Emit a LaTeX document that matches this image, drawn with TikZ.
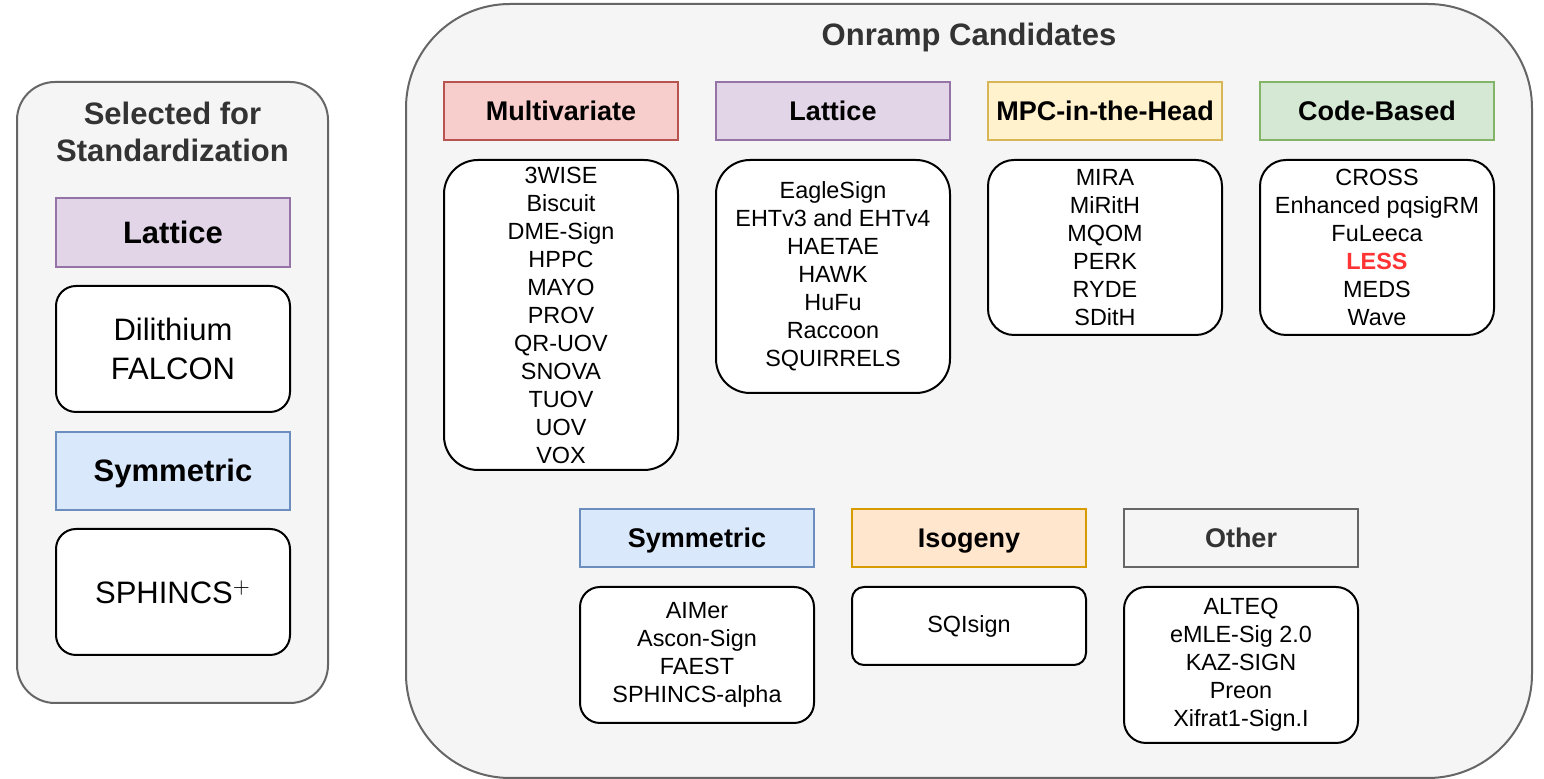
\documentclass[tikz,border=0pt]{standalone}
\usepackage{fontspec}
\setmainfont{Liberation Sans}
\usetikzlibrary{positioning}

\definecolor{redfill}{HTML}{F8CECC}\definecolor{redline}{HTML}{B85450}
\definecolor{purpfill}{HTML}{E1D5E7}\definecolor{purpline}{HTML}{9673A6}
\definecolor{yelfill}{HTML}{FFF2CC}\definecolor{yelline}{HTML}{D6B656}
\definecolor{grnfill}{HTML}{D5E8D4}\definecolor{grnline}{HTML}{82B366}
\definecolor{bluefill}{HTML}{DAE8FC}\definecolor{blueline}{HTML}{6C8EBF}
\definecolor{orgfill}{HTML}{FFE6CC}\definecolor{orgline}{HTML}{D79B00}
\definecolor{grayfill}{HTML}{F5F5F5}\definecolor{grayline}{HTML}{666666}
\definecolor{graytext}{HTML}{333333}
\definecolor{lessred}{HTML}{FF3333}

\begin{document}
\begin{tikzpicture}[x=0.5pt,y=-0.5pt]
  \tikzset{
    container/.style={draw=grayline,fill=grayfill,line width=1pt,inner sep=0pt},
    cattitle/.style={text=graytext,font=\fontsize{15.5}{18.5}\selectfont\bfseries,align=center},
    hdr/.style={draw=#1line,fill=#1fill,line width=1pt,inner sep=0pt,minimum width=117pt,
      minimum height=29pt,text depth=0.5pt,font=\fontsize{13.5}{16}\selectfont\bfseries},
    items/.style={draw=black,fill=white,line width=1pt,inner sep=0pt,minimum width=117pt,
      align=center,font=\fontsize{11.7}{14}\selectfont},
    bigitems/.style={items,font=\fontsize{15.5}{19.5}\selectfont}
  }
  \useasboundingbox[fill=white] (0,0) rectangle (1544,779);

  % selected for standardization
  \node[container,rounded corners=19pt,minimum width=155.5pt,minimum height=310.5pt] (sel) at (172.5,392.5) {};
  \node[cattitle] (seltitle) at (172.5,131.5) {Selected for\\Standardization};
  \node[hdr=purp,minimum height=34.5pt,font=\fontsize{15.5}{18}\selectfont\bfseries] (sellat) at (173,232.5) {Lattice};
  \node[bigitems,rounded corners=10pt,minimum height=63pt] (sellatl) at (173,349) {Dilithium\\FALCON};
  \node[hdr=blue,minimum height=39pt,font=\fontsize{15.5}{18}\selectfont\bfseries] (selsym) at (173,471) {Symmetric};
  \node[bigitems,rounded corners=10pt,minimum height=63pt] (selsyml) at (173,592) {SPHINCS$^{+}$};

  % onramp candidates
  \node[container,rounded corners=52pt,minimum width=563pt,minimum height=387pt] (onr) at (969,391) {};
  \node[cattitle] (onrtitle) at (969,37) {Onramp Candidates};
  \foreach \nm/\cx/\cy/\col/\txt in {multi/561/111/red/Multivariate, lat/833/111/purp/Lattice,
      mpc/1105/111/yel/MPC-in-the-Head, code/1377/111/grn/Code-Based,
      sym/697/538.5/blue/Symmetric, iso/969/538.5/org/Isogeny}
    \node[hdr=\col] (h\nm) at (\cx,\cy) {\txt};
  \node[hdr=gray,text=graytext] (hother) at (1241,538.5) {Other};

  \node[items,rounded corners=17pt,minimum height=155pt] (lmulti) at (561,315)
    {3WISE\\Biscuit\\DME-Sign\\HPPC\\MAYO\\PROV\\QR-UOV\\SNOVA\\TUOV\\UOV\\VOX};
  \node[items,rounded corners=17pt,minimum height=116.5pt] (llat) at (833,276.5)
    {EagleSign\\EHTv3 and EHTv4\\HAETAE\\HAWK\\HuFu\\Raccoon\\SQUIRRELS};
  \node[items,rounded corners=13pt,minimum height=87.5pt] (lmpc) at (1105,247.5)
    {MIRA\\MiRitH\\MQOM\\PERK\\RYDE\\SDitH};
  \node[items,rounded corners=13pt,minimum height=87.5pt] (lcode) at (1377,247.5)
    {CROSS\\Enhanced pqsigRM\\FuLeeca\\{\color{lessred}\bfseries LESS}\\MEDS\\Wave};
  \node[items,rounded corners=10pt,minimum height=68pt] (lsym) at (697,655)
    {AIMer\\Ascon-Sign\\FAEST\\SPHINCS-alpha};
  \node[items,rounded corners=6pt,minimum height=39pt] (liso) at (969,626) {SQIsign};
  \node[items,rounded corners=11pt,minimum height=78pt] (lother) at (1241,665)
    {ALTEQ\\eMLE-Sig 2.0\\KAZ-SIGN\\Preon\\Xifrat1-Sign.I};
\end{tikzpicture}
\end{document}
